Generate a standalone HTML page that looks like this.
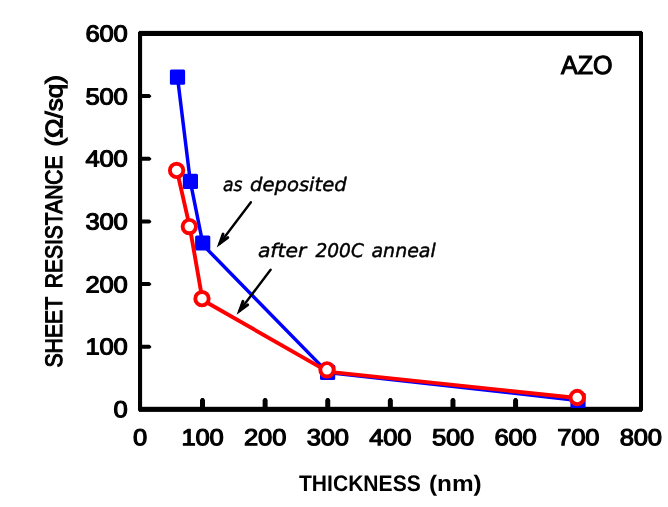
<!DOCTYPE html>
<html lang="en"><head><meta charset="utf-8"><title>AZO sheet resistance vs thickness</title>
<style>
html,body{margin:0;padding:0;background:#fff;}
body{width:668px;height:507px;overflow:hidden;}
svg{display:block;will-change:transform;}
text{font-family:"Liberation Sans",sans-serif;fill:#000;text-rendering:geometricPrecision;}
.b{font-weight:bold;}
.i{font-style:italic;}
.d{font-family:"DejaVu Sans","Liberation Sans",sans-serif;font-style:italic;}
</style></head><body>
<svg width="668" height="507" viewBox="0 0 668 507">
<rect width="668" height="507" fill="#fff"/>

<rect x="138.9" y="30.9" width="503.1" height="5.1" fill="#000"/>
<rect x="138.9" y="406.8" width="503.1" height="5.1" fill="#000"/>
<rect x="138.0" y="31.9" width="4.1" height="378.9" fill="#000"/>
<rect x="639.0" y="31.9" width="4.0" height="378.9" fill="#000"/>
<polygon points="200.01,407.5 200.01,400.0 201.41,398.0 203.61,398.0 205.01,400.0 205.01,407.5" fill="#000"/>
<polygon points="262.62,407.5 262.62,400.0 264.02,398.0 266.23,398.0 267.62,400.0 267.62,407.5" fill="#000"/>
<polygon points="325.24,407.5 325.24,400.0 326.64,398.0 328.84,398.0 330.24,400.0 330.24,407.5" fill="#000"/>
<polygon points="387.85,407.5 387.85,400.0 389.25,398.0 391.45,398.0 392.85,400.0 392.85,407.5" fill="#000"/>
<polygon points="450.46,407.5 450.46,400.0 451.86,398.0 454.06,398.0 455.46,400.0 455.46,407.5" fill="#000"/>
<polygon points="513.08,407.5 513.08,400.0 514.48,398.0 516.68,398.0 518.08,400.0 518.08,407.5" fill="#000"/>
<polygon points="575.69,407.5 575.69,400.0 577.09,398.0 579.29,398.0 580.69,400.0 580.69,407.5" fill="#000"/>
<polygon points="141.5,344.69 149.4,344.69 151.2,346.29 151.2,347.49 149.6,348.69 141.5,348.69" fill="#000"/>
<polygon points="141.5,282.03 149.4,282.03 151.2,283.63 151.2,284.83 149.6,286.03 141.5,286.03" fill="#000"/>
<polygon points="141.5,219.38 149.4,219.38 151.2,220.97 151.2,222.18 149.6,223.38 141.5,223.38" fill="#000"/>
<polygon points="141.5,156.72 149.4,156.72 151.2,158.32 151.2,159.52 149.6,160.72 141.5,160.72" fill="#000"/>
<polygon points="141.5,94.06 149.4,94.06 151.2,95.66 151.2,96.86 149.6,98.06 141.5,98.06" fill="#000"/>
<line x1="177.5" y1="77.2" x2="190.3" y2="181.4" stroke="#0000ff" stroke-width="3.5" stroke-linecap="round"/>
<line x1="190.3" y1="181.4" x2="202.7" y2="243.0" stroke="#0000ff" stroke-width="3.5" stroke-linecap="round"/>
<line x1="202.4" y1="244.4" x2="327.6" y2="372.4" stroke="#0000ff" stroke-width="3.5" stroke-linecap="round"/>
<line x1="327.6" y1="372.4" x2="578.0" y2="400.4" stroke="#0000ff" stroke-width="3.5" stroke-linecap="round"/>
<rect x="169.9" y="69.6" width="15.2" height="15.2" rx="1.5" fill="#0000ff"/>
<rect x="182.8" y="173.8" width="15.2" height="15.2" rx="1.5" fill="#0000ff"/>
<rect x="195.1" y="235.4" width="15.2" height="15.2" rx="1.5" fill="#0000ff"/>
<rect x="320.0" y="364.8" width="15.2" height="15.2" rx="1.5" fill="#0000ff"/>
<rect x="570.4" y="392.8" width="15.2" height="15.2" rx="1.5" fill="#0000ff"/>
<line x1="176.9" y1="170.4" x2="189.8" y2="227.1" stroke="#ff0000" stroke-width="3.9" stroke-linecap="round"/>
<line x1="189.8" y1="227.1" x2="202.5" y2="300.0" stroke="#ff0000" stroke-width="3.9" stroke-linecap="round"/>
<line x1="202.5" y1="300.0" x2="327.0" y2="371.1" stroke="#ff0000" stroke-width="3.9" stroke-linecap="round"/>
<line x1="327.0" y1="371.6" x2="577.2" y2="398.0" stroke="#ff0000" stroke-width="3.9" stroke-linecap="round"/>
<circle cx="176.6" cy="170.4" r="6.7" fill="#fff" stroke="#ff0000" stroke-width="3.9"/>
<circle cx="189.3" cy="226.6" r="6.7" fill="#fff" stroke="#ff0000" stroke-width="3.9"/>
<circle cx="202.0" cy="298.7" r="6.7" fill="#fff" stroke="#ff0000" stroke-width="3.9"/>
<circle cx="327.0" cy="369.8" r="6.7" fill="#fff" stroke="#ff0000" stroke-width="3.9"/>
<circle cx="577.2" cy="397.5" r="6.7" fill="#fff" stroke="#ff0000" stroke-width="3.9"/>
<line x1="250.9" y1="202.3" x2="219.7" y2="243.5" stroke="#000" stroke-width="2.4" stroke-linecap="round"/><polyline points="223.1,234.1 219.7,243.5 227.8,237.6" fill="none" stroke="#000" stroke-width="2.9" stroke-linecap="round" stroke-linejoin="miter" stroke-miterlimit="10"/>
<line x1="270.6" y1="269.8" x2="239.6" y2="310.7" stroke="#000" stroke-width="2.4" stroke-linecap="round"/><polyline points="243.0,301.3 239.6,310.7 247.7,304.8" fill="none" stroke="#000" stroke-width="2.9" stroke-linecap="round" stroke-linejoin="miter" stroke-miterlimit="10"/>
<text transform="translate(113.40,417.35) rotate(0.05) scale(1.1,1)" font-size="23.25" letter-spacing="-0.200" stroke="#000" stroke-width="1.15" stroke-linejoin="round">0</text>
<text transform="translate(85.40,354.50) rotate(0.05) scale(1.1,1)" font-size="23.25" letter-spacing="-0.200" stroke="#000" stroke-width="1.15" stroke-linejoin="round">100</text>
<text transform="translate(85.40,292.40) rotate(0.05) scale(1.1,1)" font-size="23.25" letter-spacing="-0.200" stroke="#000" stroke-width="1.15" stroke-linejoin="round">200</text>
<text transform="translate(85.40,229.50) rotate(0.05) scale(1.1,1)" font-size="23.25" letter-spacing="-0.200" stroke="#000" stroke-width="1.15" stroke-linejoin="round">300</text>
<text transform="translate(85.40,166.50) rotate(0.05) scale(1.1,1)" font-size="23.25" letter-spacing="-0.200" stroke="#000" stroke-width="1.15" stroke-linejoin="round">400</text>
<text transform="translate(85.40,104.40) rotate(0.05) scale(1.1,1)" font-size="23.25" letter-spacing="-0.200" stroke="#000" stroke-width="1.15" stroke-linejoin="round">500</text>
<text transform="translate(85.40,41.40) rotate(0.05) scale(1.1,1)" font-size="23.25" letter-spacing="-0.200" stroke="#000" stroke-width="1.15" stroke-linejoin="round">600</text>
<text transform="translate(132.90,445.30) rotate(0.05) scale(1.1,1)" font-size="23.25" letter-spacing="-0.200" stroke="#000" stroke-width="1.15" stroke-linejoin="round">0</text>
<text transform="translate(181.51,445.30) rotate(0.05) scale(1.1,1)" font-size="23.25" letter-spacing="-0.200" stroke="#000" stroke-width="1.15" stroke-linejoin="round">100</text>
<text transform="translate(244.12,445.30) rotate(0.05) scale(1.1,1)" font-size="23.25" letter-spacing="-0.200" stroke="#000" stroke-width="1.15" stroke-linejoin="round">200</text>
<text transform="translate(306.74,445.30) rotate(0.05) scale(1.1,1)" font-size="23.25" letter-spacing="-0.200" stroke="#000" stroke-width="1.15" stroke-linejoin="round">300</text>
<text transform="translate(369.35,445.30) rotate(0.05) scale(1.1,1)" font-size="23.25" letter-spacing="-0.200" stroke="#000" stroke-width="1.15" stroke-linejoin="round">400</text>
<text transform="translate(431.96,445.30) rotate(0.05) scale(1.1,1)" font-size="23.25" letter-spacing="-0.200" stroke="#000" stroke-width="1.15" stroke-linejoin="round">500</text>
<text transform="translate(494.58,445.30) rotate(0.05) scale(1.1,1)" font-size="23.25" letter-spacing="-0.200" stroke="#000" stroke-width="1.15" stroke-linejoin="round">600</text>
<text transform="translate(557.19,445.30) rotate(0.05) scale(1.1,1)" font-size="23.25" letter-spacing="-0.200" stroke="#000" stroke-width="1.15" stroke-linejoin="round">700</text>
<text transform="translate(619.80,445.30) rotate(0.05) scale(1.1,1)" font-size="23.25" letter-spacing="-0.200" stroke="#000" stroke-width="1.15" stroke-linejoin="round">800</text>
<text class="d" y="190.9" font-size="18.8" stroke="#000" stroke-width="0.45"><tspan x="223.0" textLength="19.49" lengthAdjust="spacingAndGlyphs">as</tspan> <tspan x="249.98" textLength="96.73" lengthAdjust="spacingAndGlyphs">deposited</tspan></text>
<text class="d" y="257" font-size="18.8" stroke="#000" stroke-width="0.45"><tspan x="257.93" textLength="48.36" lengthAdjust="spacingAndGlyphs">after</tspan> <tspan x="315.5" textLength="48.38" lengthAdjust="spacingAndGlyphs">200C</tspan> <tspan x="371.5" textLength="64.21" lengthAdjust="spacingAndGlyphs">anneal</tspan></text>
<text class="b" y="490.8" font-size="22.5"><tspan x="299.0" textLength="121.75" lengthAdjust="spacingAndGlyphs">THICKNESS</tspan> <tspan x="428.91" textLength="52.79" lengthAdjust="spacingAndGlyphs">(nm)</tspan></text>
<text y="74.3" font-size="26.2" stroke="#000" stroke-width="1.1"><tspan x="560.98" textLength="51.62" lengthAdjust="spacingAndGlyphs">AZO</tspan></text>
<text transform="translate(62.2,0) rotate(-90.03)" font-size="23.8" stroke="#000" stroke-width="1.1"><tspan x="-367.6" textLength="70.5" lengthAdjust="spacingAndGlyphs">SHEET</tspan> <tspan x="-288.3" textLength="132.9" lengthAdjust="spacingAndGlyphs">RESISTANCE</tspan> <tspan x="-146.6" textLength="71.5" lengthAdjust="spacingAndGlyphs">(Ω/sq)</tspan></text>
</svg></body></html>
